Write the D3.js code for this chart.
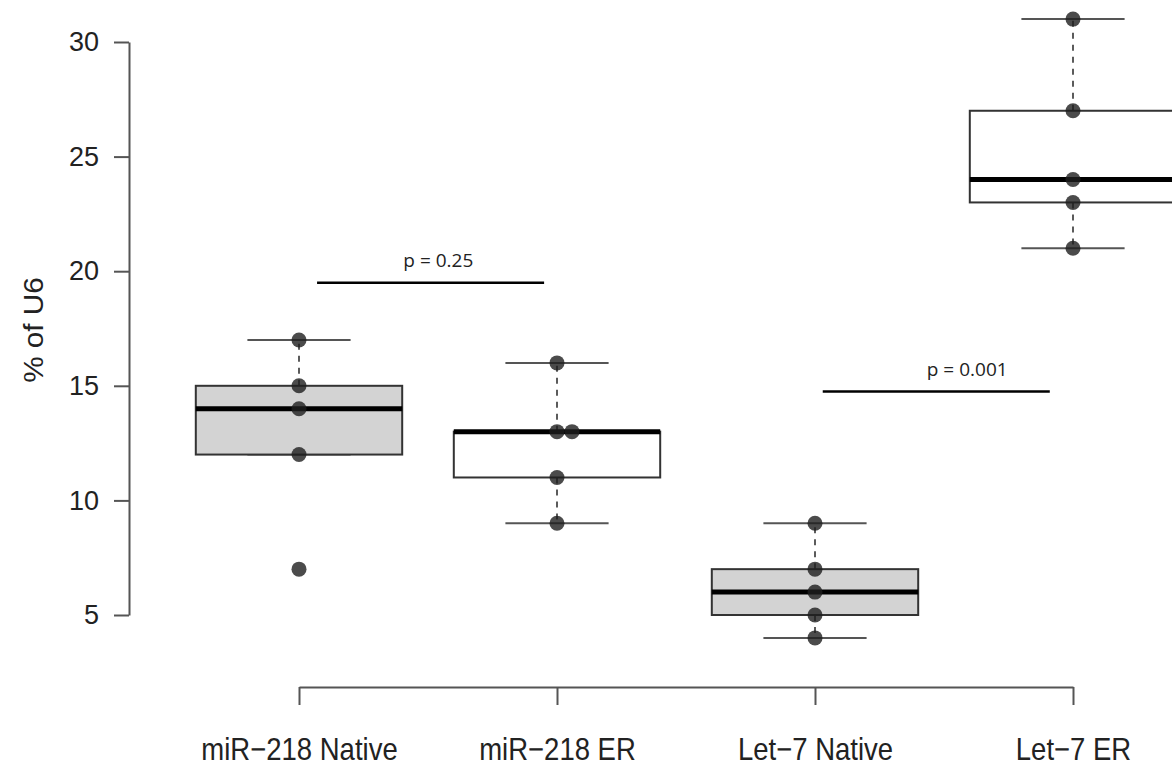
<!DOCTYPE html>
<html>
<head>
<meta charset="utf-8">
<script src="https://cdn.jsdelivr.net/npm/d3@7"></script>
<style>
  html, body { margin: 0; padding: 0; background: #fff; overflow: hidden; }
  svg { display: block; }
</style>
</head>
<body>
<svg id="chart" width="1172" height="767"></svg>
<script>
// Groups and per-sample measurements (% of U6)
const categories = ["miR\u2212218 Native", "miR\u2212218 ER", "Let\u22127 Native", "Let\u22127 ER"];
const miR218Native = [17, 15, 14, 12, 7];
const miR218ER = [16, 13, 13, 11, 9];
const let7Native = [9, 7, 6, 5, 4];
const let7ER = [31, 27, 24, 23, 21];
const seriesValues = [miR218Native, miR218ER, let7Native, let7ER];
const boxFills = ["#d3d3d3", "#ffffff", "#d3d3d3", "#ffffff"];
const yTicks = [5, 10, 15, 20, 25, 30];
// Pairwise comparisons: span in group-index units and bar height in data units
const comparisons = [
  { label: "p = 0.25", from: 0.07, to: 0.95, at: 0.54, y: 19.5 },
  { label: "p = 0.001", from: 2.03, to: 2.91, at: 2.59, y: 14.75 }
];

const svg = d3.select("#chart");
const y = d3.scaleLinear().domain([5, 30]).range([615, 42]);
const x = d3.scalePoint().domain(categories).range([299, 1073]);
const xi = d3.scaleLinear().domain([0, categories.length - 1]).range([299, 1073]);
const step = x.step();
const boxW = step * 0.8;
const capW = boxW / 2;
const sans = "'Liberation Sans', Arial, Helvetica, sans-serif";

// Tukey five-number summary (as in R's boxplot.stats)
function stats(vals) {
  const s = vals.slice().sort(d3.ascending);
  const n = s.length;
  const med = d3.median(s);
  const n4 = Math.floor((n + 3) / 2) / 2;
  const lo = (s[Math.floor(n4) - 1] + s[Math.ceil(n4) - 1]) / 2;
  const hi = (s[n - Math.floor(n4)] + s[n - Math.ceil(n4)]) / 2;
  const iqr = hi - lo;
  const inside = s.filter(v => v >= lo - 1.5 * iqr && v <= hi + 1.5 * iqr);
  return { med, lo, hi, wlo: d3.min(inside), whi: d3.max(inside) };
}

const g = svg.append("g");
categories.forEach((cat, i) => {
  const st = stats(seriesValues[i]);
  const cx = x(cat);
  const grp = g.append("g");
  // whiskers
  grp.append("line").attr("x1", cx).attr("x2", cx).attr("y1", y(st.hi)).attr("y2", y(st.whi))
    .attr("stroke", "#333").attr("stroke-width", 1.6).attr("stroke-dasharray", "6,6");
  grp.append("line").attr("x1", cx).attr("x2", cx).attr("y1", y(st.lo)).attr("y2", y(st.wlo))
    .attr("stroke", "#333").attr("stroke-width", 1.6).attr("stroke-dasharray", "6,6");
  [st.whi, st.wlo].forEach(v => {
    grp.append("line").attr("x1", cx - capW / 2).attr("x2", cx + capW / 2)
      .attr("y1", y(v)).attr("y2", y(v)).attr("stroke", "#555").attr("stroke-width", 2);
  });
  // box
  grp.append("rect").attr("x", cx - boxW / 2).attr("width", boxW)
    .attr("y", y(st.hi)).attr("height", y(st.lo) - y(st.hi))
    .attr("fill", boxFills[i]).attr("stroke", "#333").attr("stroke-width", 2);
  // median
  grp.append("line").attr("x1", cx - boxW / 2).attr("x2", cx + boxW / 2)
    .attr("y1", y(st.med)).attr("y2", y(st.med)).attr("stroke", "#000").attr("stroke-width", 5);
  // samples; repeated values are set side by side
  const seen = {};
  seriesValues[i].forEach(v => {
    const k = seen[v] || 0;
    seen[v] = k + 1;
    grp.append("circle").attr("cx", cx + k * 15).attr("cy", y(v)).attr("r", 7.5)
      .attr("fill", "rgba(30,30,30,0.8)");
  });
});

// y axis
const yAxis = svg.append("g").attr("transform", "translate(129,0)")
  .call(d3.axisLeft(y).tickValues(yTicks).tickSize(15).tickPadding(15).tickSizeOuter(0));
yAxis.select(".domain").attr("stroke", "#555").attr("stroke-width", 2);
yAxis.selectAll(".tick line").attr("stroke", "#555").attr("stroke-width", 2);
yAxis.selectAll(".tick text").attr("font-family", sans)
  .attr("font-size", 27).attr("fill", "#222");

// x axis; the labels are set a little taller than wide
const xAxis = svg.append("g").attr("transform", "translate(0,687)")
  .call(d3.axisBottom(x).tickSize(18).tickSizeOuter(0));
xAxis.select(".domain").attr("stroke", "#555").attr("stroke-width", 2);
xAxis.selectAll(".tick line").attr("stroke", "#555").attr("stroke-width", 2);
xAxis.selectAll(".tick text")
  .attr("y", null).attr("dy", null)
  .attr("transform", "translate(0,73) scale(1,1.15)")
  .attr("font-family", sans).attr("font-size", 27.5).attr("fill", "#222");

// y title
svg.append("text").attr("transform", "translate(43,330) rotate(-90) scale(1.1,1.05)")
  .attr("text-anchor", "middle").attr("font-family", sans)
  .attr("font-size", 27).attr("fill", "#222").text("% of U6");

// comparison bars
comparisons.forEach(c => {
  svg.append("line").attr("x1", xi(c.from)).attr("x2", xi(c.to))
    .attr("y1", y(c.y)).attr("y2", y(c.y)).attr("stroke", "#000").attr("stroke-width", 2.5);
  svg.append("text").attr("x", xi(c.at)).attr("y", y(c.y) - 16)
    .attr("text-anchor", "middle")
    .attr("font-family", "'Open Sans', 'Noto Sans', sans-serif")
    .attr("font-size", 19).attr("fill", "#222").text(c.label);
});
</script>
</body>
</html>
